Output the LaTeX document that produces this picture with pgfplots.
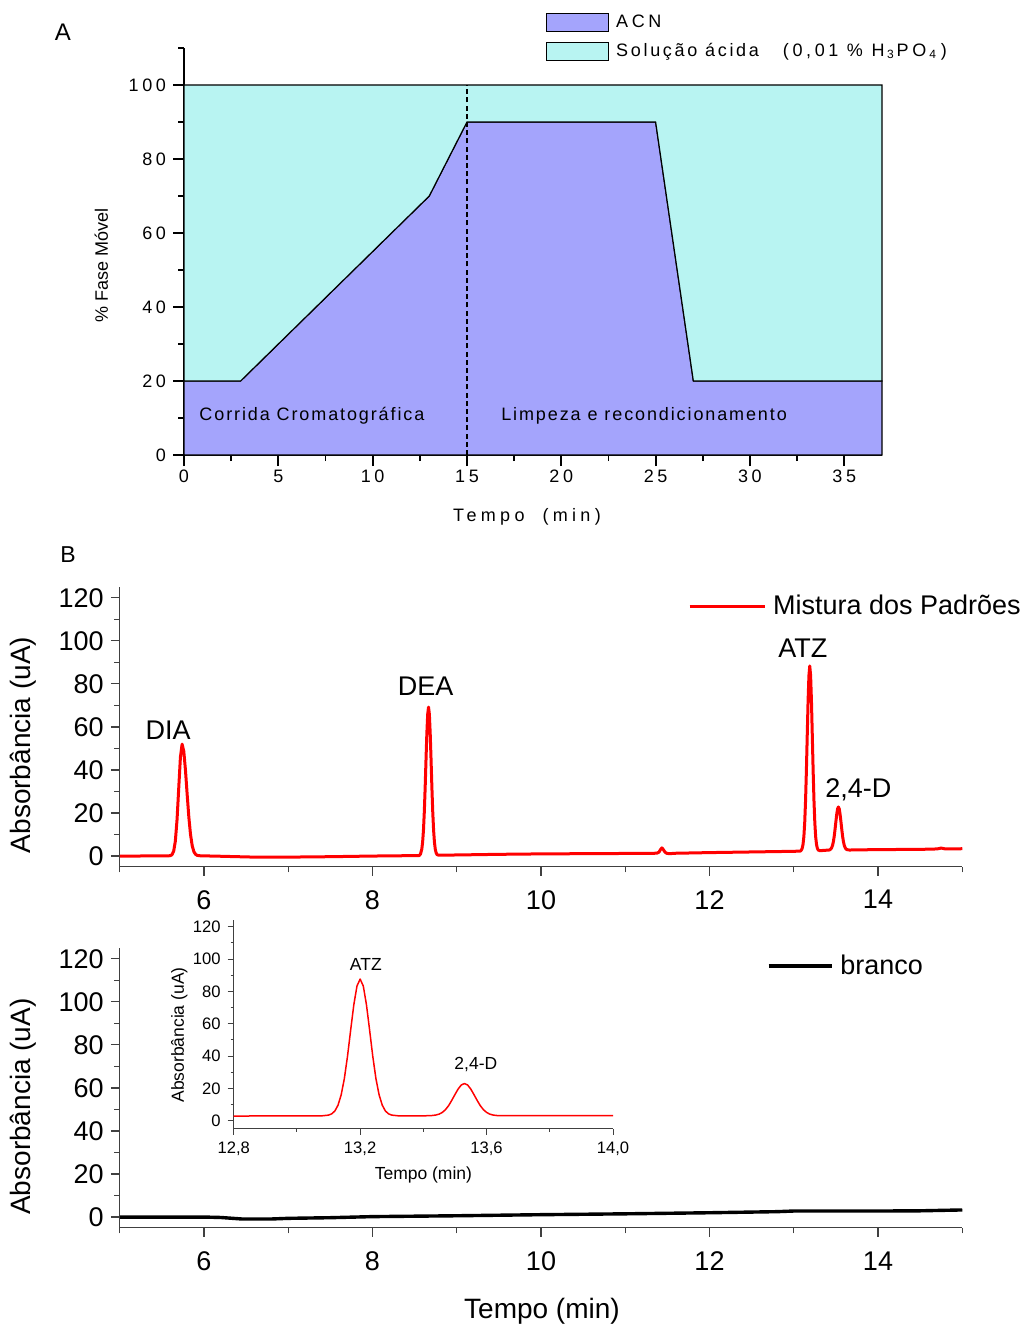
\documentclass[border=0pt]{standalone}
\usepackage{pgfplots}
\pgfplotsset{compat=1.18}
\usepackage{fontspec}
\setmainfont{Liberation Sans}
\newfontfamily\lsA[LetterSpace=10.5]{Liberation Sans}
\newfontfamily\lsB[LetterSpace=20]{Liberation Sans}
\newfontfamily\lsC[LetterSpace=15]{Liberation Sans}
\newfontfamily\lsD[LetterSpace=24]{Liberation Sans}
\definecolor{acn}{RGB}{164,164,252}
\definecolor{acid}{RGB}{184,244,242}
\begin{document}
\begin{tikzpicture}[x=1pt,y=1pt]
\path[use as bounding box] (0,0) rectangle (511.5,-663);
% ---------------- Panel A ----------------
\begin{axis}[
  at={(92pt,-227.5pt)}, anchor=south west,
  scale only axis, width=349pt, height=203.5pt,
  xmin=0, xmax=37, ymin=0, ymax=110,
  axis x line*=bottom, axis y line*=left,
  axis line style={line width=0.9pt, black},
  xtick={0,5,...,35}, minor xtick={2.5,7.5,...,32.5},
  ytick={0,20,...,100}, minor ytick={10,30,...,110},
  tick align=outside, major tick length=5.5pt, minor tick length=3pt,
  every tick/.append style={line width=0.9pt, black},
  /pgf/number format/assume math mode=true,
  tick label style={font=\lsB\fontsize{9}{10}\selectfont},
  xticklabel style={yshift=1.5pt},
  clip=false,
  legend style={draw=none, fill=none, at={(0.5186,1.086)}, anchor=north west,
    inner sep=0pt, outer sep=0pt, row sep=4.75pt, column sep=3.5pt,
    nodes={inner sep=0pt}, font=\fontsize{9}{10}\selectfont},
  legend cell align=left,
  legend image code/.code={\draw[#1] (0pt,-4.5pt) rectangle (31pt,4.5pt);},
]
\addplot[fill=acn, draw=black, line width=0.6pt] coordinates {(0,20) (3,20) (13,70) (15,90) (25,90) (27,20) (37,20)} \closedcycle;
\addlegendentry{\lsB ACN}
\addplot[fill=acid, draw=black, line width=0.6pt] coordinates {(0,20) (3,20) (13,70) (15,90) (25,90) (27,20) (37,20) (37,100) (0,100)} -- cycle;
\addlegendentry{\lsC Solução ácida\hspace{12pt}\lsB(0,01 \% H\hspace{1.2pt}\textsubscript{3}\hspace{1pt}PO\hspace{1.5pt}\textsubscript{4}\hspace{2pt})}
\addplot[forget plot, black, line width=0.65pt, dash pattern=on 2.5pt off 1.6pt] coordinates {(15,0) (15,100)};
\node[anchor=base west, inner sep=0pt, font=\lsA\fontsize{9}{10}\selectfont] at (axis cs:0.8,9.3) {Corrida Cromatográfica};
\node[anchor=base west, inner sep=0pt, font=\lsA\fontsize{9}{10}\selectfont] at (axis cs:16.8,9.3) {Limpeza e recondicionamento};
\end{axis}
\node[font=\lsD\fontsize{9}{10}\selectfont] at (263.5,-258.2) {Tempo\hspace{9pt}(min)};
\node[rotate=90, font=\fontsize{9}{10}\selectfont] at (50.7,-132.5) {\% Fase Móvel};
\node[font=\fontsize{12}{13}\selectfont] at (31.5,-16) {A};
\node[font=\fontsize{11.5}{12}\selectfont] at (34,-277.3) {B};
% ---------------- Panel B top ----------------
\begin{axis}[
  at={(59.875pt,-433.4pt)}, anchor=south west,
  scale only axis, width=421.25pt, height=139.9pt,
  xmin=5, xmax=15, ymin=-5, ymax=125,
  axis x line*=bottom, axis y line*=left,
  axis line style={line width=0.6pt, black!75},
  xtick={6,8,...,14}, minor xtick={5,7,...,15},
  ytick={0,20,...,120}, minor ytick={10,30,...,110},
  tick align=outside, major tick length=4.5pt, minor tick length=2.8pt,
  every tick/.append style={line width=0.6pt, black!75},
  /pgf/number format/assume math mode=true,
  tick label style={font=\fontsize{13.5}{14}\selectfont},
  xticklabel style={yshift=-3.7pt},
  clip=false,
  legend style={draw=none, fill=none, at={(0.6746,0.932)}, anchor=west,
    inner sep=0pt, outer sep=0pt, column sep=3.5pt,
    nodes={inner sep=0pt}, font=\fontsize{13.5}{14}\selectfont},
  legend image code/.code={\draw[#1] (0pt,0pt) -- (37.5pt,0pt);},
]
\addplot[red, line width=1.5pt, line join=round] coordinates {
(5.00,0.0) (5.20,0.0) (5.40,0.1) (5.55,0.1) (5.58,0.1) (5.60,0.2) (5.62,0.6) (5.64,2.3) (5.66,7.0) (5.68,16.9) (5.70,31.5) (5.72,45.9) (5.74,52.0) (5.76,48.7) (5.78,39.9) (5.80,28.7) (5.82,18.1) (5.84,10.0) (5.86,4.8) (5.88,2.0) (5.90,0.8) (5.92,0.3) (5.96,0.1) (6.10,0.0) (6.30,-0.2) (6.60,-0.5) (7.00,-0.5) (7.50,-0.3) (8.00,0.0) (8.50,0.2) (8.555,0.2) (8.57,1.0) (8.585,3.2) (8.595,6.5) (8.605,12.1) (8.615,20.6) (8.625,31.8) (8.635,44.7) (8.645,56.9) (8.655,65.9) (8.665,69.2) (8.675,65.9) (8.685,56.9) (8.695,44.7) (8.705,31.8) (8.715,20.6) (8.725,12.1) (8.735,6.5) (8.745,3.2) (8.755,1.5) (8.765,0.7) (8.785,0.4) (9.00,0.5) (9.50,0.8) (10.00,1.0) (10.50,1.1) (11.00,1.2) (11.35,1.3) (11.38,1.4) (11.40,1.8) (11.42,3.1) (11.435,3.8) (11.45,3.1) (11.47,1.9) (11.49,1.3) (11.52,1.1) (11.60,1.3) (12.00,1.6) (12.50,1.9) (13.00,2.2) (13.08,2.3) (13.09,2.8) (13.10,3.6) (13.11,5.4) (13.12,9.0) (13.13,15.5) (13.14,25.7) (13.15,39.7) (13.16,56.1) (13.17,72.1) (13.18,83.9) (13.19,88.3) (13.20,83.9) (13.21,72.1) (13.22,56.1) (13.23,39.7) (13.24,25.7) (13.25,15.5) (13.26,9.0) (13.27,5.4) (13.28,3.6) (13.29,2.8) (13.31,2.5) (13.35,2.6) (13.42,2.8) (13.43,3.0) (13.44,3.3) (13.45,3.9) (13.46,4.9) (13.47,6.6) (13.48,9.1) (13.49,12.4) (13.50,16.0) (13.51,19.4) (13.52,21.9) (13.53,22.8) (13.54,21.9) (13.55,19.4) (13.56,16.0) (13.57,12.4) (13.58,9.1) (13.59,6.6) (13.60,4.9) (13.61,3.9) (13.62,3.3) (13.63,3.0) (13.66,2.8) (14.00,3.0) (14.50,3.1) (14.70,3.3) (14.75,3.7) (14.80,3.3) (15.00,3.4)};
\addlegendentry{Mistura dos Padrões}
\node[anchor=base, inner sep=0pt, font=\fontsize{13.5}{14}\selectfont] at (axis cs:5.573,54.2) {DIA};
\node[anchor=base, inner sep=0pt, font=\fontsize{13.5}{14}\selectfont] at (axis cs:8.632,74.8) {DEA};
\node[anchor=base, inner sep=0pt, font=\fontsize{13.5}{14}\selectfont] at (axis cs:13.107,92.3) {ATZ};
\node[anchor=base, inner sep=0pt, font=\fontsize{13.5}{14}\selectfont] at (axis cs:13.766,27.4) {2,4-D};
\end{axis}
\node[rotate=90, font=\fontsize{14}{15}\selectfont] at (11.5,-372.5) {Absorbância (uA)};
% ---------------- Panel B bottom ----------------
\begin{axis}[
  at={(59.875pt,-613.9pt)}, anchor=south west,
  scale only axis, width=421.25pt, height=139.9pt,
  xmin=5, xmax=15, ymin=-5, ymax=125,
  axis x line*=bottom, axis y line*=left,
  axis line style={line width=0.6pt, black!75},
  xtick={6,8,...,14}, minor xtick={5,7,...,15},
  ytick={0,20,...,120}, minor ytick={10,30,...,110},
  tick align=outside, major tick length=4.5pt, minor tick length=2.8pt,
  every tick/.append style={line width=0.6pt, black!75},
  /pgf/number format/assume math mode=true,
  tick label style={font=\fontsize{13.5}{14}\selectfont},
  xticklabel style={yshift=-4pt},
  clip=false,
  legend style={draw=none, fill=none, at={(0.7682,0.9355)}, anchor=west,
    inner sep=0pt, outer sep=0pt, column sep=3.5pt,
    nodes={inner sep=0pt}, font=\fontsize{13.5}{14}\selectfont},
  legend image code/.code={\draw[#1] (0pt,0pt) -- (31.5pt,0pt);},
]
\addplot[black, line width=1.7pt, line join=round] coordinates {
(5.0,0.0) (5.5,0.0) (6.0,0.0) (6.2,-0.2) (6.45,-0.9) (6.8,-0.9) (7.0,-0.6) (7.5,-0.3) (8.0,0.2) (9.0,0.6) (10.0,1.1) (11.0,1.5) (12.0,2.0) (12.8,2.5) (13.0,2.8) (14.0,2.8) (14.5,2.9) (15.0,3.3)};
\addlegendentry{branco}
\end{axis}
\node[rotate=90, font=\fontsize{14}{15}\selectfont] at (11.5,-553.3) {Absorbância (uA)};
\node[font=\fontsize{14}{15}\selectfont] at (271,-655.6) {Tempo (min)};
% ---------------- Inset ----------------
\begin{axis}[
  at={(116.85pt,-564.4pt)}, anchor=south west,
  scale only axis, width=189.65pt, height=104.3pt,
  xmin=12.8, xmax=14.0, ymin=-5, ymax=124,
  axis x line*=bottom, axis y line*=left,
  axis line style={line width=0.5pt, black!75},
  xtick={12.8,13.2,13.6,14.0}, minor xtick={13.0,13.4,13.8},
  ytick={0,20,...,120}, minor ytick={10,30,...,110},
  tick align=outside, major tick length=3pt, minor tick length=1.5pt,
  every tick/.append style={line width=0.5pt, black!75},
  /pgf/number format/assume math mode=true,
  xticklabel style={/pgf/number format/.cd, fixed, fixed zerofill, precision=1, use comma},
  tick label style={font=\fontsize{8.3}{9}\selectfont},
  clip=false,
]
\addplot[red, line width=0.75pt, line join=round] coordinates {
(12.80,2.9) (13.00,3.0) (13.08,3.05) (13.10,3.47) (13.11,4.25) (13.12,6.0) (13.13,9.6) (13.14,16.0) (13.15,26.0) (13.16,39.8) (13.17,56.0) (13.18,71.7) (13.19,83.3) (13.20,87.6) (13.21,83.3) (13.22,71.7) (13.23,56.0) (13.24,39.8) (13.25,26.0) (13.26,16.0) (13.27,9.6) (13.28,6.0) (13.29,4.25) (13.30,3.47) (13.32,3.05) (13.40,3.0) (13.43,3.25) (13.44,3.55) (13.45,4.1) (13.46,5.15) (13.47,6.85) (13.48,9.35) (13.49,12.65) (13.50,16.2) (13.51,19.6) (13.52,22.1) (13.53,23.0) (13.54,22.1) (13.55,19.6) (13.56,16.2) (13.57,12.65) (13.58,9.35) (13.59,6.85) (13.60,5.15) (13.61,4.1) (13.62,3.55) (13.63,3.25) (13.65,3.1) (14.00,3.1)};
\node[anchor=base, inner sep=0pt, font=\fontsize{8.75}{9}\selectfont] at (axis cs:13.218,92.8) {ATZ};
\node[anchor=base, inner sep=0pt, font=\fontsize{8.75}{9}\selectfont] at (axis cs:13.566,31.4) {2,4-D};
\end{axis}
\node[rotate=90, font=\fontsize{8.75}{9}\selectfont] at (89.7,-517.5) {Absorbância (uA)};
\node[font=\fontsize{8.75}{9}\selectfont] at (211.7,-587.7) {Tempo (min)};
\end{tikzpicture}
\end{document}
